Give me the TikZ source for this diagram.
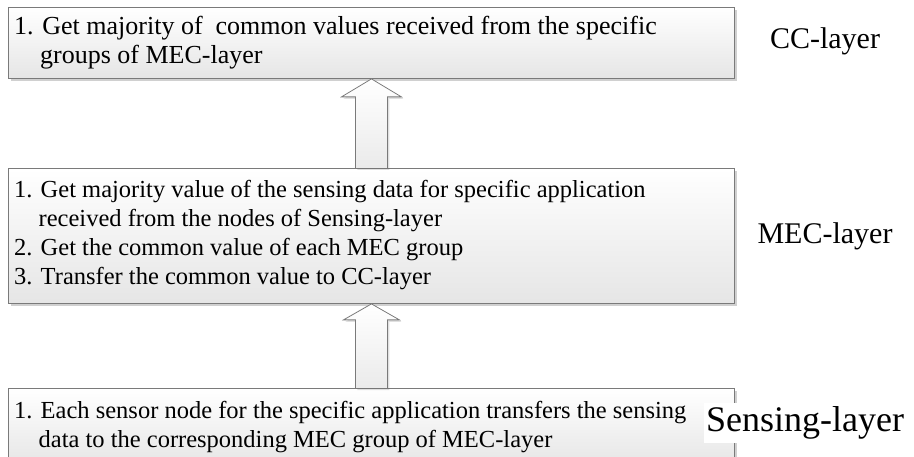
\documentclass[tikz,border=0pt]{standalone}
\usepackage{fontspec}
\setmainfont{Liberation Serif}
\usetikzlibrary{shadows,calc}
\definecolor{edgegray}{HTML}{7A7A7A}
\tikzset{
  layerbox/.style={draw=edgegray, line width=0.9pt, top color=white, bottom color=black!10,
    drop shadow={shadow xshift=3pt, shadow yshift=-3pt, opacity=0.3, fill=black!60},
    anchor=north west, minimum width=726pt, inner sep=0pt},
  boxtext/.style={anchor=west, align=left, inner sep=0pt, font=\fontsize{24.5}{29}\selectfont},
  blockarr/.style={draw=edgegray, line width=0.8pt, top color=white, bottom color=black!8,
    drop shadow={shadow xshift=2pt, shadow yshift=-2pt, opacity=0.2, fill=black!60}},
  layerlabel/.style={font=\fontsize{30}{34}\selectfont, inner sep=0pt}
}
\newcommand\hangsp{\hspace*{24.5pt}}
\newcommand\hangcc{\hspace*{26pt}}
\begin{document}
\begin{tikzpicture}[x=1pt,y=1pt]
\useasboundingbox (0,0) rectangle (914,-457);
\fill[white] (0,0) rectangle (914,-457);
\node[layerbox, minimum height=71pt] (cc) at (8,-7) {};
\node[boxtext, font=\fontsize{26}{29}\selectfont] (cctext) at ($(cc.west)+(6,0)$)
  {1. Get majority of\ \ common values received from the specific\\\hangcc groups of MEC-layer};
\node[layerbox, minimum height=135pt] (mec) at (8,-168) {};
\node[boxtext] (mectext) at ($(mec.west)+(6,1)$)
  {1. Get majority value of the sensing data for specific application\\\hangsp received from the nodes of Sensing-layer\\2. Get the common value of each MEC group\\3. Transfer the common value to CC-layer};
\node[layerbox, minimum height=78pt] (sens) at (8,-388) {};
\node[boxtext] (senstext) at ($(sens.west)+(6,0)$)
  {1. Each sensor node for the specific application transfers the sensing\\\hangsp data to the corresponding MEC group of MEC-layer};
% block arrows
\draw[blockarr] ($(mec.north)+(-16,0)$) -- ($(cc.south)+(-16,-18)$) -- ($(cc.south)+(-30,-18)$)
  -- (cc.south) -- ($(cc.south)+(30,-18)$) -- ($(cc.south)+(16,-18)$) -- ($(mec.north)+(16,0)$);
\draw[blockarr] ($(sens.north)+(-16,0)$) -- ($(mec.south)+(-16,-16)$) -- ($(mec.south)+(-28,-16)$)
  -- (mec.south) -- ($(mec.south)+(28,-16)$) -- ($(mec.south)+(16,-16)$) -- ($(sens.north)+(16,0)$);
% labels
\node[layerlabel] (cclab) at (825,-41) {CC-layer};
\node[layerlabel] (meclab) at (825,-236) {MEC-layer};
\node[layerlabel, font=\fontsize{36}{40}\selectfont, fill=white, inner xsep=2pt, inner ysep=4pt] (senslab) at (805,-423) {Sensing-layer};
\end{tikzpicture}
\end{document}
